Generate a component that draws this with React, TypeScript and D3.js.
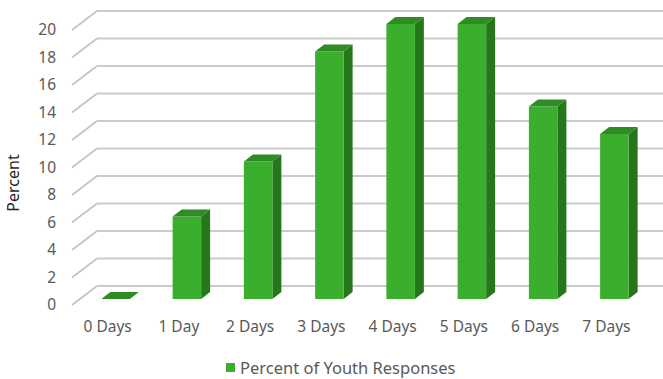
import React from "react";
import * as d3 from "d3";

// Share of youth responses by number of days
const categories: string[] = ["0 Days", "1 Day", "2 Days", "3 Days", "4 Days", "5 Days", "6 Days", "7 Days"];
const values: number[] = [0, 6, 10, 18, 20, 20, 14, 12];
const yTicks: number[] = [0, 2, 4, 6, 8, 10, 12, 14, 16, 18, 20];
const seriesName = "Percent of Youth Responses";
const yTitle = "Percent";

const W = 663;
const H = 379;

// Oblique projection of the 3-D plot box
const FRONT_LEFT = 72;
const FRONT_RIGHT = 642;
const DEPTH_DX = 25;
const DEPTH_DY = 19;
const Z0 = 0.32; // bar front depth fraction
const Z1 = 0.68; // bar back depth fraction

const FONT = "'Noto Sans', 'Open Sans', sans-serif";
const TEXT = "#595959";

const GREEN_FRONT = "#3cae2e";
const GREEN_TOP = "#2f8b24";
const GREEN_SIDE = "#26771c";

export default function App() {
  const x = d3
    .scaleBand<string>()
    .domain(categories)
    .range([FRONT_LEFT, FRONT_RIGHT])
    .paddingInner(0.6)
    .paddingOuter(0.3);
  const y = d3.scaleLinear().domain([0, 20]).range([305, 30]);

  const px = (sx: number, z: number) => sx + z * DEPTH_DX;
  const py = (v: number, z: number) => y(v) - z * DEPTH_DY;
  const pt = (sx: number, v: number, z: number) => `${px(sx, z)},${py(v, z)}`;

  const backLeft = FRONT_LEFT + DEPTH_DX;
  const backRight = FRONT_RIGHT + DEPTH_DX;

  return (
    <svg
      width={W}
      height={H}
      viewBox={`0 0 ${W} ${H}`}
      style={{ position: "fixed", left: 0, top: 0, background: "#fff" }}
    >
      <rect x={0} y={0} width={W} height={H} fill="#fff" />
      {/* side-wall and back-wall gridlines */}
      <g>
        {yTicks.map((t) => (
          <g key={t}>
            <line
              x1={FRONT_LEFT}
              y1={py(t, 0)}
              x2={backLeft}
              y2={py(t, 1)}
              stroke="#c2c2c2"
              strokeWidth={1.6}
            />
            <line
              x1={backLeft}
              y1={py(t, 1)}
              x2={backRight}
              y2={py(t, 1)}
              stroke="#cbcbcb"
              strokeWidth={2.2}
            />
          </g>
        ))}
      </g>
      {/* y tick labels */}
      <g fontFamily={FONT} fontSize={15.5} fill={TEXT} textAnchor="end">
        {yTicks.map((t) => (
          <text key={t} x={56} y={py(t, 0)} dy="0.35em">
            {t}
          </text>
        ))}
      </g>
      <text
        transform={`translate(19,${183}) rotate(-90)`}
        textAnchor="middle"
        fontFamily={FONT}
        fontSize={16}
        fill="#1f1f1f"
      >
        {yTitle}
      </text>
      {/* columns */}
      <g>
        {categories.map((c, i) => {
          const v = values[i];
          const l = x(c)!;
          const r = l + x.bandwidth();
          return (
            <g key={c}>
              {v > 0 && (
                <polygon
                  points={[pt(r, 0, Z0), pt(r, 0, Z1), pt(r, v, Z1), pt(r, v, Z0)].join(" ")}
                  fill={GREEN_SIDE}
                />
              )}
              {v > 0 && (
                <polygon
                  points={[pt(l, 0, Z0), pt(r, 0, Z0), pt(r, v, Z0), pt(l, v, Z0)].join(" ")}
                  fill={GREEN_FRONT}
                />
              )}
              <polygon
                points={[pt(l, v, Z0), pt(r, v, Z0), pt(r, v, Z1), pt(l, v, Z1)].join(" ")}
                fill={GREEN_TOP}
              />
            </g>
          );
        })}
      </g>
      {/* category labels */}
      <g fontFamily={FONT} fontSize={15.5} fill={TEXT} textAnchor="middle">
        {categories.map((c) => (
          <text key={c} x={x(c)! + x.bandwidth() / 2} y={327} dy="0.35em">
            {c}
          </text>
        ))}
      </g>
      {/* legend */}
      <g>
        <rect x={226} y={363} width={9} height={9} fill={GREEN_FRONT} />
        <text x={240} y={368} dy="0.35em" fontFamily={FONT} fontSize={16.5} fill={TEXT}>
          {seriesName}
        </text>
      </g>
    </svg>
  );
}
